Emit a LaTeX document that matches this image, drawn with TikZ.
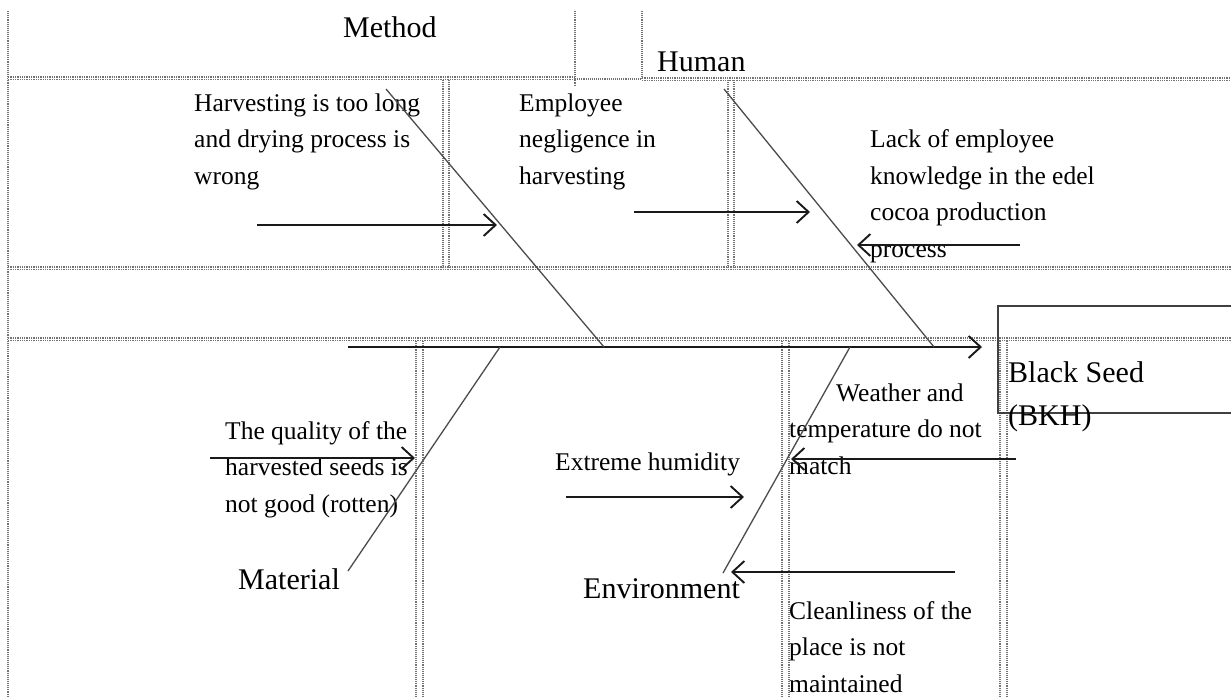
\documentclass[tikz,border=0pt]{standalone}
\usepackage{fontspec}
\setmainfont{Liberation Serif}
\usetikzlibrary{arrows.meta}
\begin{document}
\begin{tikzpicture}[x=1pt,y=-1pt,
  gridl/.style={draw=black!55, densely dotted, line width=1.1pt},
  gridd/.style={draw=black!55, densely dotted, line width=1.3pt, double=white, double distance=0.6pt},
  bone/.style={draw=black!70, line width=1.3pt},
  causearrow/.style={draw=black!90, line width=2.6pt, -{Straight Barb[length=12pt,width=22pt,line width=1.9pt]}},
  boxline/.style={draw=black!75, line width=1.6pt},
  biglabel/.style={font=\fontsize{30}{43}\selectfont, inner sep=0pt, anchor=base west, align=left},
  causetext/.style={font=\fontsize{25.5}{36.5}\selectfont, inner sep=0pt, anchor=base west, align=left}]
\useasboundingbox (0,0) rectangle (1231,697);
\fill[white] (0,0) rectangle (1231,697);
% table grid (background)
\draw[gridl] (8,11) -- (8,697);
\draw[gridd] (8,78) -- (575,78);
\draw[gridl] (575,79) -- (642,79);
\draw[gridd] (642,79) -- (1231,79);
\draw[gridl] (575,11) -- (575,86);
\draw[gridl] (642,11) -- (642,79);
\draw[gridd] (8,268) -- (1231,268);
\draw[gridd] (8,339) -- (1231,339);
\foreach \xx in {443,449,728,734} \draw[gridl] (\xx,80) -- (\xx,268);
\foreach \xx in {416,423,782,789,1000,1007} \draw[gridl] (\xx,341) -- (\xx,697);
% effect box
\draw[boxline] (1231,306) -- (998,306) -- (998,413) -- (1231,413);
\node[biglabel] (effect) at (1008,425) {Black Seed\\(BKH)};
% category labels
\node[biglabel] (method) at (343,37) {Method};
\node[biglabel] (human) at (657,71) {Human};
\node[biglabel] (material) at (238,589) {Material};
\node[biglabel] (environment) at (583,598) {Environment};
% cause texts (anchored at the baseline of their last line)
\node[causetext] (c1) at (194,184) {Harvesting is too long\\and drying process is\\wrong};
\node[causetext] (c2) at (519,184) {Employee\\negligence in\\harvesting};
\node[causetext] (c3) at (870,257) {Lack of employee\\knowledge in the edel\\cocoa production\\process};
\node[causetext] (c4) at (225,512) {The quality of the\\harvested seeds is\\not good (rotten)};
\node[causetext] (c5) at (555,470) {Extreme humidity};
\node[causetext] (c6) at (789,474) {\hspace*{47pt}Weather and\\temperature do not\\match};
\node[causetext] (c7) at (789,692) {Cleanliness of the\\place is not\\maintained};
% spine and bones
\coordinate (spineS) at (348,347);
\coordinate (spineE) at (982,347);
\coordinate (mTop) at (386,89);
\coordinate (mEnd) at (604,347);
\coordinate (hTop) at (724,89);
\coordinate (hEnd) at (934,347);
\coordinate (matBot) at (348,571);
\coordinate (matEnd) at (500,347);
\coordinate (envBot) at (723,573);
\coordinate (envEnd) at (850,347);
\draw[causearrow] (spineS) -- (spineE);
\draw[bone] (mTop) -- (mEnd);
\draw[bone] (hTop) -- (hEnd);
\draw[bone] (matBot) -- (matEnd);
\draw[bone] (envBot) -- (envEnd);
% cause arrows
\coordinate (a1s) at (257,225); \coordinate (a1e) at (497,225);
\coordinate (a2s) at (634,212); \coordinate (a2e) at (810,212);
\coordinate (a3s) at (1020,245); \coordinate (a3e) at (857,245);
\coordinate (a4s) at (210,458); \coordinate (a4e) at (415,458);
\coordinate (a5s) at (566,497); \coordinate (a5e) at (744,497);
\coordinate (a6s) at (1016,459); \coordinate (a6e) at (791,459);
\coordinate (a7s) at (955,572); \coordinate (a7e) at (731,572);
\foreach \i in {1,...,7} \draw[causearrow] (a\i s) -- (a\i e);
\end{tikzpicture}
\end{document}
